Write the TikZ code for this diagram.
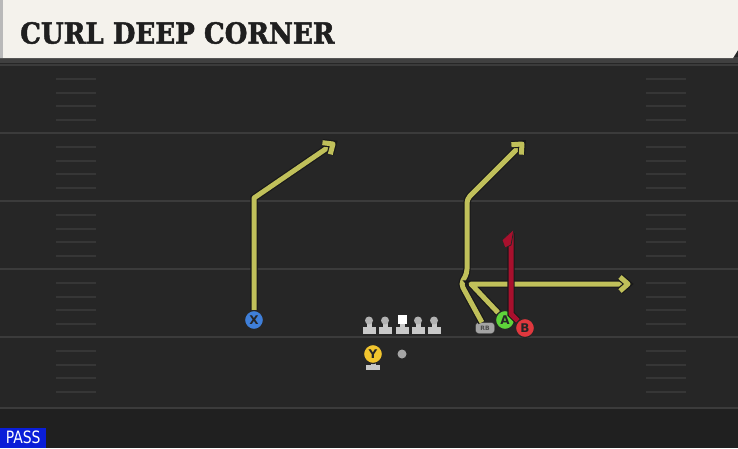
\documentclass[tikz,border=0pt]{standalone}
\usepackage{fontspec}
\setmainfont{DejaVu Sans}
\newfontfamily\titlefont{DejaVu Serif Condensed}[FakeBold=1.6]

\definecolor{fieldgray}{HTML}{262626}
\definecolor{fielddark}{HTML}{202020}
\definecolor{linegray}{HTML}{3B3B3B}
\definecolor{hashgray}{HTML}{363636}
\definecolor{cream}{HTML}{F4F2EC}
\definecolor{routeyellow}{HTML}{C0C05A}
\definecolor{blockred}{HTML}{A8102D}
\definecolor{xblue}{HTML}{3F7FD9}
\definecolor{yyellow}{HTML}{F2C52E}
\definecolor{agreen}{HTML}{5ED43A}
\definecolor{bred}{HTML}{E0383E}
\definecolor{rbgray}{HTML}{A4A4A4}
\definecolor{olgray}{HTML}{C8C8C8}
\definecolor{passblue}{HTML}{0A1ED8}

\begin{document}
\begin{tikzpicture}[x=1pt,y=1pt,yscale=-1,
  player/.style={circle,draw=black!85,line width=1.2,minimum size=19,inner sep=0,
    font=\bfseries\fontsize{12}{12}\selectfont,text=black!85},
  route/.style={draw=routeyellow,line width=5,line join=round,
    preaction={draw=black!90,line width=7.4}},
  block/.style={draw=blockred,line width=5,line join=round,
    preaction={draw=black!90,line width=7.4}},
  fieldline/.style={draw=linegray,line width=1.8},
  hash/.style={draw=hashgray,line width=1.6}]

\useasboundingbox (0,0) rectangle (738,448);
%Shape: Field
\fill[fieldgray] (0,0) rectangle (738,448);
\fill[fielddark] (0,409) rectangle (738,448);
\foreach \y in {65,133,201,269,337,408}
  \draw[fieldline] (0,\y) -- (738,\y);
\foreach \y in {65,133,201,269,337}
  \foreach \d in {14,28,41,55} {
    \draw[hash] (56,\y+\d) -- (96,\y+\d);
    \draw[hash] (646,\y+\d) -- (686,\y+\d);
  }

%Shape: Title bar
\fill[black!75] (0,57) rectangle (738,63);
\fill[cream] (0,0) -- (738,0) -- (738,50) -- (733,58) -- (0,58) -- cycle;
\fill[gray!55] (0,0) rectangle (3,58);
\node[anchor=west,inner sep=0,text=black!88,
  font=\titlefont\bfseries\fontsize{29}{29}\selectfont] (title) at (20,33) {CURL DEEP CORNER};

%Shape: Line
\foreach \x in {369,385,418,434} {
  \fill[olgray] (\x-6.5,327) rectangle (\x+6.5,334);
  \fill[olgray] (\x-2.5,321) rectangle (\x+2.5,328);
  \fill[gray!60] (\x,320.5) circle (4);
}
\fill[olgray] (395.5,327) rectangle (408.5,334);
\fill[olgray] (399.5,323) rectangle (404.5,328);
\fill[white] (397.5,315) rectangle (406.5,324);

%Shape: Y stand
\fill[olgray] (370.5,362) rectangle (375.5,366);
\fill[olgray] (366,365) rectangle (380,370);

%Players
\node[player,fill=xblue] (X) at (254,320) {X};
\node[player,fill=yyellow] (Y) at (373,354) {Y};
\node[circle,fill=gray!70,minimum size=9,inner sep=0] (qb) at (402,354) {};
\node[draw=black!80,fill=rbgray,rounded corners=3,minimum width=19,minimum height=11,
  inner sep=0,font=\bfseries\fontsize{6}{6}\selectfont,text=black!70] (RB) at (485,328) {RB};
\node[player,fill=agreen] (A) at (505,320) {A};
\node[player,fill=bred] (B) at (525,328) {B};

%Route points
\coordinate (xbreak) at (254,198);
\coordinate (xend) at (333,144);
\coordinate (rbcut) at (461,284);
\coordinate (rbstem) at (467,273);
\coordinate (rbbreak) at (467,199);
\coordinate (rbend) at (522,144);
\coordinate (acut) at (471,284);
\coordinate (aend) at (628,284);
\coordinate (bbreak) at (511,314);
\coordinate (btop) at (511,233);

%Straight Lines: X
\draw[route] (X) -- (xbreak) -- (xend);
\draw[route,shift={(xend)},rotate=-34] (-8,-7) -- (0,0) -- (-8,7);
%Straight Lines: RB
\draw[route,rounded corners=4] (RB) -- (rbcut) -- (rbstem) -- (rbbreak) -- (rbend);
\draw[route,shift={(rbend)},rotate=-45] (-8,-7) -- (0,0) -- (-8,7);
%Straight Lines: A
\draw[route] (A) -- (acut) -- (aend);
\draw[route,shift={(aend)}] (-8,-7) -- (0,0) -- (-8,7);
%Straight Lines: B
\draw[block] (B) -- (bbreak) -- (btop);
\filldraw[blockred,draw=black!85,line width=0.8] (514,229) -- (502,240) -- (505,248) -- (511,245) -- cycle;

%Shape: Pass tag
\node[fill=passblue,minimum width=46,minimum height=20,inner sep=0,anchor=south west,
  text=white,font=\fontsize{17}{17}\selectfont] (pass) at (0,448) {\scalebox{0.82}[1]{PASS}};

\end{tikzpicture}
\end{document}
